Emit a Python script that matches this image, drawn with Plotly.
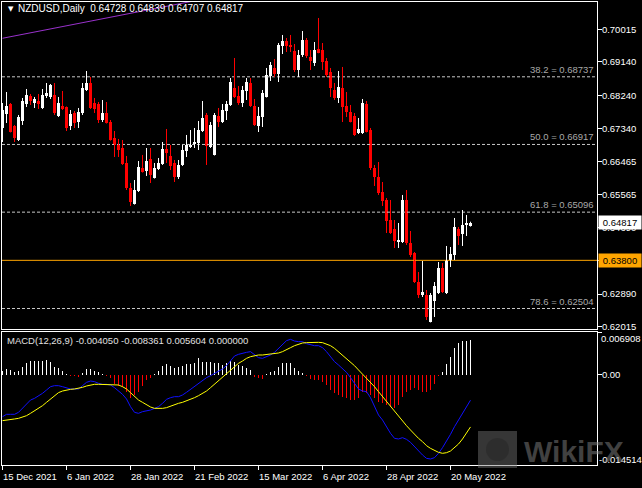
import plotly.graph_objects as go

# ---------------- data ----------------
opens = [
0.67360, 0.67736, 0.68005, 0.67414, 0.67037, 0.67548, 0.68005, 0.68221, 0.68032, 0.68086,
0.67898, 0.68221, 0.68194, 0.68248, 0.67683, 0.67952, 0.67925, 0.67414, 0.67763, 0.67521,
0.67763, 0.68382, 0.68570, 0.68032, 0.68005, 0.67575, 0.67763, 0.67521, 0.67091, 0.66903,
0.66822, 0.66418, 0.65746, 0.65315, 0.65665, 0.66284, 0.66203, 0.66526, 0.66015, 0.66257,
0.66391, 0.66795, 0.66607, 0.66418, 0.66042, 0.66365, 0.66741, 0.66849, 0.66929, 0.66956,
0.67279, 0.67710, 0.66849, 0.66634, 0.67683, 0.67521, 0.67817, 0.67979, 0.68436, 0.68221,
0.68032, 0.68355, 0.68570, 0.67952, 0.67414, 0.67656, 0.68194, 0.68759, 0.68974, 0.68812,
0.69566, 0.69700, 0.69593, 0.69431, 0.68920, 0.69324, 0.69727, 0.69270, 0.69108, 0.69485,
0.69458, 0.69162, 0.68866, 0.68382, 0.68167, 0.68436, 0.67952, 0.67790, 0.67683, 0.67225,
0.67225, 0.68005, 0.67306, 0.66284, 0.66042, 0.65638, 0.65423, 0.64885, 0.64643, 0.64293,
0.64293, 0.65423, 0.64266, 0.63997, 0.63217, 0.62868, 0.62868, 0.62141, 0.62706, 0.62921,
0.63594, 0.62921, 0.63809, 0.63944, 0.64643, 0.64508, 0.64751, 0.64728]

highs = [
0.68032, 0.68328, 0.68032, 0.67441, 0.67710, 0.68167, 0.68409, 0.68274, 0.68194, 0.68274,
0.68409, 0.68570, 0.68543, 0.68570, 0.68194, 0.68355, 0.67940, 0.67844, 0.67817, 0.67898,
0.68570, 0.68893, 0.68732, 0.68167, 0.68059, 0.68113, 0.68059, 0.67575, 0.67279, 0.67064,
0.67037, 0.66607, 0.65880, 0.65961, 0.66472, 0.66634, 0.66822, 0.66822, 0.66418, 0.66553,
0.66983, 0.67333, 0.66903, 0.66499, 0.66499, 0.66903, 0.67172, 0.67306, 0.67360, 0.67548,
0.68086, 0.67763, 0.67521, 0.67763, 0.67898, 0.68005, 0.68086, 0.68705, 0.69243, 0.68490,
0.68490, 0.68705, 0.68705, 0.68140, 0.67925, 0.68382, 0.68974, 0.69135, 0.69216, 0.69646,
0.69862, 0.69781, 0.69862, 0.69619, 0.69458, 0.69969, 0.69781, 0.69458, 0.69673, 0.70319,
0.69646, 0.69243, 0.68974, 0.68570, 0.68893, 0.69001, 0.68328, 0.67979, 0.67763, 0.67629,
0.68140, 0.68086, 0.67360, 0.66365, 0.66445, 0.65907, 0.65477, 0.65423, 0.64885, 0.64804,
0.65558, 0.65692, 0.64589, 0.64024, 0.63486, 0.63782, 0.63002, 0.62921, 0.63217, 0.63755,
0.63728, 0.64186, 0.64159, 0.64939, 0.64697, 0.65154, 0.65020, 0.64839]

lows = [
0.66983, 0.67494, 0.67240, 0.66983, 0.67010, 0.67441, 0.67925, 0.67979, 0.67898, 0.67871,
0.67871, 0.68167, 0.68140, 0.67710, 0.67656, 0.67844, 0.67279, 0.67306, 0.67360, 0.67360,
0.67710, 0.68355, 0.67871, 0.67763, 0.67494, 0.67521, 0.67480, 0.67020, 0.66580, 0.66580,
0.66365, 0.65692, 0.65262, 0.65300, 0.65638, 0.66160, 0.66069, 0.65880, 0.66000, 0.66230,
0.66365, 0.66418, 0.66230, 0.65907, 0.65988, 0.66338, 0.66580, 0.66822, 0.66822, 0.66768,
0.67252, 0.66365, 0.66822, 0.66620, 0.67387, 0.67494, 0.67575, 0.67952, 0.68167, 0.67979,
0.67925, 0.68113, 0.67925, 0.67414, 0.67252, 0.67387, 0.68180, 0.68624, 0.68732, 0.68597,
0.69350, 0.69404, 0.69404, 0.68866, 0.68732, 0.69270, 0.69243, 0.68920, 0.69028, 0.69370,
0.68920, 0.68732, 0.68194, 0.68113, 0.68032, 0.67521, 0.67656, 0.67510, 0.67145, 0.67198,
0.67198, 0.67240, 0.66230, 0.65800, 0.65558, 0.65262, 0.64535, 0.64508, 0.64132, 0.64132,
0.64266, 0.64213, 0.63890, 0.63190, 0.62787, 0.62814, 0.62195, 0.62130, 0.62276, 0.62894,
0.62921, 0.62894, 0.63621, 0.63809, 0.64213, 0.64186, 0.64455, 0.64707]

closes = [
0.67844, 0.67952, 0.67252, 0.67091, 0.67656, 0.68086, 0.68248, 0.68086, 0.68140, 0.68005,
0.68248, 0.68301, 0.68517, 0.67763, 0.68032, 0.67871, 0.67360, 0.67736, 0.67494, 0.67790,
0.68436, 0.68570, 0.67898, 0.67871, 0.67575, 0.67763, 0.67494, 0.67037, 0.66903, 0.66768,
0.66391, 0.65746, 0.65369, 0.65692, 0.66311, 0.66176, 0.66472, 0.66096, 0.66284, 0.66418,
0.66795, 0.66687, 0.66338, 0.66042, 0.66365, 0.66768, 0.66903, 0.66903, 0.66983, 0.67306,
0.67629, 0.66876, 0.67441, 0.67710, 0.67521, 0.67844, 0.68005, 0.68597, 0.68194, 0.68032,
0.68382, 0.68597, 0.67952, 0.67441, 0.67683, 0.68301, 0.68786, 0.69055, 0.68812, 0.69593,
0.69700, 0.69566, 0.69539, 0.68920, 0.69324, 0.69727, 0.69297, 0.69162, 0.69458, 0.69377,
0.69135, 0.68786, 0.68436, 0.68167, 0.68463, 0.67925, 0.67790, 0.67521, 0.67172, 0.67333,
0.68032, 0.67252, 0.66284, 0.66042, 0.65611, 0.65396, 0.64858, 0.64535, 0.64320, 0.64347,
0.65423, 0.64266, 0.63944, 0.63217, 0.62868, 0.62948, 0.62276, 0.62868, 0.63110, 0.63594,
0.62948, 0.63809, 0.63970, 0.64697, 0.64455, 0.64751, 0.64804, 0.64817]

macd_main = [
-0.00671, -0.00633, -0.00633, -0.00633, -0.00601, -0.00537, -0.00456, -0.00403, -0.00376, -0.00338,
-0.00295, -0.00242, -0.00188, -0.00172, -0.00172, -0.00188, -0.00204, -0.00225, -0.00225, -0.00225,
-0.00172, -0.00118, -0.00097, -0.00107, -0.00134, -0.00150, -0.00150, -0.00161, -0.00204, -0.00258,
-0.00311, -0.00386, -0.00510, -0.00601, -0.00617, -0.00590, -0.00580, -0.00564, -0.00537, -0.00510,
-0.00456, -0.00392, -0.00365, -0.00349, -0.00349, -0.00322, -0.00279, -0.00231, -0.00172, -0.00134,
-0.00081, -0.00043, -0.00011, 0.00027, 0.00064, 0.00097, 0.00150, 0.00225, 0.00306, 0.00333,
0.00343, 0.00365, 0.00376, 0.00333, 0.00279, 0.00268, 0.00295, 0.00322, 0.00365, 0.00429,
0.00504, 0.00553, 0.00574, 0.00547, 0.00537, 0.00537, 0.00504, 0.00483, 0.00472, 0.00472,
0.00440, 0.00376, 0.00295, 0.00215, 0.00161, 0.00097, 0.00043, -0.00043, -0.00134, -0.00225,
-0.00258, -0.00268, -0.00365, -0.00510, -0.00644, -0.00725, -0.00832, -0.00939, -0.01020, -0.01030,
-0.01009, -0.01036, -0.01084, -0.01154, -0.01234, -0.01288, -0.01342, -0.01352, -0.01331, -0.01261,
-0.01170, -0.01073, -0.00955, -0.00832, -0.00725, -0.00617, -0.00526, -0.00405]

macd_signal = [
-0.00735, -0.00730, -0.00719, -0.00708, -0.00698, -0.00676, -0.00655, -0.00617, -0.00580, -0.00537,
-0.00494, -0.00440, -0.00386, -0.00333, -0.00284, -0.00258, -0.00242, -0.00231, -0.00225, -0.00215,
-0.00199, -0.00177, -0.00161, -0.00150, -0.00150, -0.00150, -0.00150, -0.00150, -0.00150, -0.00161,
-0.00188, -0.00225, -0.00284, -0.00349, -0.00403, -0.00440, -0.00483, -0.00515, -0.00537, -0.00542,
-0.00537, -0.00526, -0.00499, -0.00472, -0.00456, -0.00440, -0.00419, -0.00392, -0.00365, -0.00333,
-0.00295, -0.00258, -0.00204, -0.00150, -0.00097, -0.00043, 0.00011, 0.00070, 0.00134, 0.00188,
0.00225, 0.00268, 0.00295, 0.00311, 0.00322, 0.00322, 0.00327, 0.00333, 0.00338, 0.00354,
0.00376, 0.00403, 0.00440, 0.00472, 0.00499, 0.00515, 0.00521, 0.00526, 0.00526, 0.00526,
0.00521, 0.00499, 0.00472, 0.00429, 0.00376, 0.00322, 0.00268, 0.00215, 0.00150, 0.00081,
0.00016, -0.00054, -0.00118, -0.00188, -0.00268, -0.00349, -0.00429, -0.00510, -0.00590, -0.00671,
-0.00741, -0.00816, -0.00886, -0.00955, -0.01020, -0.01073, -0.01138, -0.01181, -0.01218, -0.01245,
-0.01261, -0.01251, -0.01224, -0.01170, -0.01111, -0.01030, -0.00939, -0.00836]

macd_hist = [
0.00064, 0.00097, 0.00081, 0.00043, 0.00064, 0.00134, 0.00188, 0.00225, 0.00225, 0.00231,
0.00231, 0.00242, 0.00215, 0.00134, 0.00107, 0.00064, 0.00011, -0.00005, -0.00011, -0.00021,
0.00027, 0.00097, 0.00097, 0.00064, 0.00043, 0.00011, -0.00011, -0.00054, -0.00150, -0.00172,
-0.00188, -0.00268, -0.00365, -0.00322, -0.00268, -0.00177, -0.00081, -0.00043, 0.00005, 0.00064,
0.00150, 0.00172, 0.00150, 0.00107, 0.00134, 0.00150, 0.00172, 0.00172, 0.00188, 0.00268,
0.00215, 0.00204, 0.00215, 0.00188, 0.00188, 0.00161, 0.00188, 0.00225, 0.00215, 0.00161,
0.00150, 0.00118, 0.00081, -0.00027, -0.00054, -0.00064, 0.00005, 0.00054, 0.00064, 0.00134,
0.00188, 0.00199, 0.00188, 0.00107, 0.00064, 0.00027, -0.00005, -0.00064, -0.00081, -0.00081,
-0.00118, -0.00161, -0.00242, -0.00295, -0.00322, -0.00349, -0.00376, -0.00403, -0.00403, -0.00376,
-0.00268, -0.00295, -0.00322, -0.00376, -0.00429, -0.00456, -0.00483, -0.00510, -0.00526, -0.00483,
-0.00349, -0.00268, -0.00242, -0.00215, -0.00242, -0.00279, -0.00279, -0.00242, -0.00150, -0.00005,
0.00054, 0.00177, 0.00295, 0.00429, 0.00510, 0.00547, 0.00547, 0.00560]

fib_levels = [0.68737, 0.66917, 0.65096, 0.62504]
fib_names = ["38.2", "50.0", "61.8", "78.6"]
support_level = 0.63800
last_price = 0.64817

price_ticks = [0.70015, 0.69140, 0.68240, 0.67340, 0.66465, 0.65565, 0.64690, 0.63800, 0.62890, 0.62015]
macd_tick_top = 0.006908
macd_tick_bottom = -0.014514

date_tick_bars = [0, 16, 32, 48, 64, 80, 96, 112]
date_tick_labels = ["15 Dec 2021", "6 Jan 2022", "28 Jan 2022", "21 Feb 2022",
                    "15 Mar 2022", "6 Apr 2022", "28 Apr 2022", "20 May 2022"]

trend_x = [0, 60]
trend_y = [0.69773, 0.71032]

title_text = "NZDUSD,Daily&nbsp; 0.64728 0.64839 0.64707 0.64817"
macd_text = "MACD(12,26,9) -0.004050 -0.008361 0.005604 0.000000"

# ---------------- styling ----------------
FONT = "Liberation Sans"
FS = 9.5
UP = "#FFFFFF"
DN = "#FF0000"
n = len(opens)
bars = list(range(n))

X_RANGE = [-0.125, 148.625]
Y_RANGE = [0.61953, 0.70749]
M_RANGE = [-0.01449, 0.006923]
MAIN_DOM = [0.29374, 1.0]
MACD_DOM = [0.0, 0.28726]

fig = go.Figure()

# Fibonacci dashed lines and support line
for lvl in fib_levels:
    fig.add_trace(go.Scatter(x=[X_RANGE[0], X_RANGE[1]], y=[lvl, lvl], mode="lines",
                             line=dict(color="#c8c8c8", width=1, dash="3px,2px"),
                             xaxis="x", yaxis="y", hoverinfo="skip"))
fig.add_trace(go.Scatter(x=[X_RANGE[0], X_RANGE[1]], y=[support_level, support_level], mode="lines",
                         line=dict(color="#FFA500", width=1), xaxis="x", yaxis="y", hoverinfo="skip"))

# trend line
fig.add_trace(go.Scatter(x=trend_x, y=trend_y, mode="lines",
                         line=dict(color="#9932CC", width=1), xaxis="x", yaxis="y", hoverinfo="skip"))

# candles: wicks
for is_up, col in ((True, UP), (False, DN)):
    wx, wy = [], []
    for i in bars:
        if (closes[i] >= opens[i]) == is_up:
            wx += [i, i, None]
            wy += [lows[i], highs[i], None]
    fig.add_trace(go.Scatter(x=wx, y=wy, mode="lines", line=dict(color=col, width=1),
                             xaxis="x", yaxis="y", hoverinfo="skip"))

# candles: bodies
body_base = [min(o, c) for o, c in zip(opens, closes)]
body_h = [max(abs(c - o), 0.00027) for o, c in zip(opens, closes)]
body_col = [UP if c >= o else DN for o, c in zip(opens, closes)]
fig.add_trace(go.Bar(x=bars, y=body_h, base=body_base, width=0.75,
                     marker=dict(color=body_col, line=dict(width=0)),
                     xaxis="x", yaxis="y", hoverinfo="skip"))

# MACD histogram and lines
hist_col = [UP if v > 0 else DN for v in macd_hist]
fig.add_trace(go.Bar(x=bars, y=macd_hist, width=0.25,
                     marker=dict(color=hist_col, line=dict(width=0)),
                     xaxis="x2", yaxis="y2", hoverinfo="skip"))
fig.add_trace(go.Scatter(x=bars, y=macd_main, mode="lines", line=dict(color="#1010FF", width=1),
                         xaxis="x2", yaxis="y2", hoverinfo="skip"))
fig.add_trace(go.Scatter(x=bars, y=macd_signal, mode="lines", line=dict(color="#FFFF00", width=1),
                         xaxis="x2", yaxis="y2", hoverinfo="skip"))

annotations = []
# header texts
annotations.append(dict(xref="paper", yref="paper", x=(6 - 2) / 595, y=(465 - 9) / 463,
                        text="▼", showarrow=False, xanchor="left", yanchor="middle",
                        font=dict(family="DejaVu Sans", size=7, color="white")))
annotations.append(dict(xref="paper", yref="paper", x=(16 - 2) / 595, y=(465 - 9) / 463,
                        text=title_text, showarrow=False, xanchor="left", yanchor="middle",
                        font=dict(family=FONT, size=10, color="white")))
annotations.append(dict(xref="paper", yref="paper", x=(5 - 2) / 595, y=(465 - 340) / 463,
                        text=macd_text, showarrow=False, xanchor="left", yanchor="middle",
                        font=dict(family=FONT, size=FS, color="#e0e0e0")))
# fib labels
for lvl, name in zip(fib_levels, fib_names):
    annotations.append(dict(xref="paper", yref="y", x=1.0, y=lvl, xanchor="right", yanchor="bottom",
                            xshift=-1, yshift=0, text=f"{name} = {lvl:.5f}", showarrow=False,
                            font=dict(family=FONT, size=FS, color="#a8a8a8")))
# right price boxes
annotations.append(dict(xref="paper", yref="y", x=1.0, y=support_level, xanchor="left", yanchor="middle",
                        xshift=1, text=f"{support_level:.5f}", showarrow=False, width=40, height=11,
                        align="center", bgcolor="#FFA500", borderpad=1,
                        font=dict(family=FONT, size=FS, color="black")))
annotations.append(dict(xref="paper", yref="y", x=1.0, y=last_price, xanchor="left", yanchor="middle",
                        xshift=1, text=f"{last_price:.5f}", showarrow=False, width=40, height=11,
                        align="center", bgcolor="white", borderpad=1,
                        font=dict(family=FONT, size=FS, color="black")))
# MACD end labels
annotations.append(dict(xref="paper", yref="paper", x=1.0, y=(465 - 338) / 463, xanchor="left",
                        yanchor="middle", xshift=2, text=f"{macd_tick_top:.6f}", showarrow=False,
                        font=dict(family=FONT, size=FS, color="white")))
annotations.append(dict(xref="paper", yref="paper", x=1.0, y=(465 - 459) / 463, xanchor="left",
                        yanchor="middle", xshift=0, text=f"{macd_tick_bottom:.6f}", showarrow=False,
                        font=dict(family=FONT, size=FS, color="white")))
# date labels
for b, lab in zip(date_tick_bars, date_tick_labels):
    annotations.append(dict(xref="x2", yref="paper", x=b, y=0, xanchor="left", yanchor="top",
                            xshift=-2, yshift=-4, text=lab, showarrow=False,
                            font=dict(family=FONT, size=FS, color="white")))
# watermark
annotations.append(dict(xref="paper", yref="paper", x=(522 - 2) / 595, y=(465 - 451) / 463,
                        xanchor="left", yanchor="middle", text="<b>WikiFX</b>", showarrow=False,
                        font=dict(family=FONT, size=30, color="rgba(130,130,130,0.5)")))

shapes = [dict(type="rect", xref="paper", yref="paper",
               x0=(478 - 2) / 595, x1=(517 - 2) / 595, y0=(465 - 468) / 463, y1=(465 - 431) / 463,
               fillcolor="rgba(120,120,120,0.45)", line=dict(width=0), layer="above"),
          dict(type="circle", xref="paper", yref="paper",
               x0=(486 - 2) / 595, x1=(509 - 2) / 595, y0=(465 - 461) / 463, y1=(465 - 438) / 463,
               fillcolor="rgba(40,40,40,0.6)", line=dict(width=0), layer="above")]

axis_common = dict(showgrid=False, zeroline=False, showline=True, linecolor="white", linewidth=1,
                   mirror=True)

fig.update_layout(
    width=642, height=488,
    margin=dict(l=2, r=45, t=2, b=23),
    paper_bgcolor="black", plot_bgcolor="black",
    showlegend=False, barmode="overlay", bargap=0,
    font=dict(family=FONT, size=FS, color="white"),
    xaxis=dict(domain=[0, 1], anchor="y", range=X_RANGE, showticklabels=False, ticks="",
               **axis_common),
    yaxis=dict(domain=MAIN_DOM, anchor="x", side="right", range=Y_RANGE,
               tickvals=price_ticks, ticktext=[f"{v:.5f}" for v in price_ticks],
               ticks="outside", ticklen=4, tickcolor="white", ticklabelstandoff=-2,
               tickfont=dict(family=FONT, size=FS, color="white"), **axis_common),
    xaxis2=dict(domain=[0, 1], anchor="y2", range=X_RANGE, matches="x",
                tickvals=date_tick_bars, showticklabels=False, ticks="outside", ticklen=4,
                tickcolor="white", **axis_common),
    yaxis2=dict(domain=MACD_DOM, anchor="x2", side="right", range=M_RANGE,
                tickvals=[macd_tick_top, 0.0, macd_tick_bottom], ticktext=["", "0.00", ""],
                ticks="outside", ticklen=4, tickcolor="white", ticklabelstandoff=-2,
                tickfont=dict(family=FONT, size=FS, color="white"), **axis_common),
    annotations=annotations,
    shapes=shapes,
)

fig.write_html("out.html", config={"displayModeBar": False},
               post_script="document.body.style.margin='0px'; document.body.style.overflow='hidden';")
